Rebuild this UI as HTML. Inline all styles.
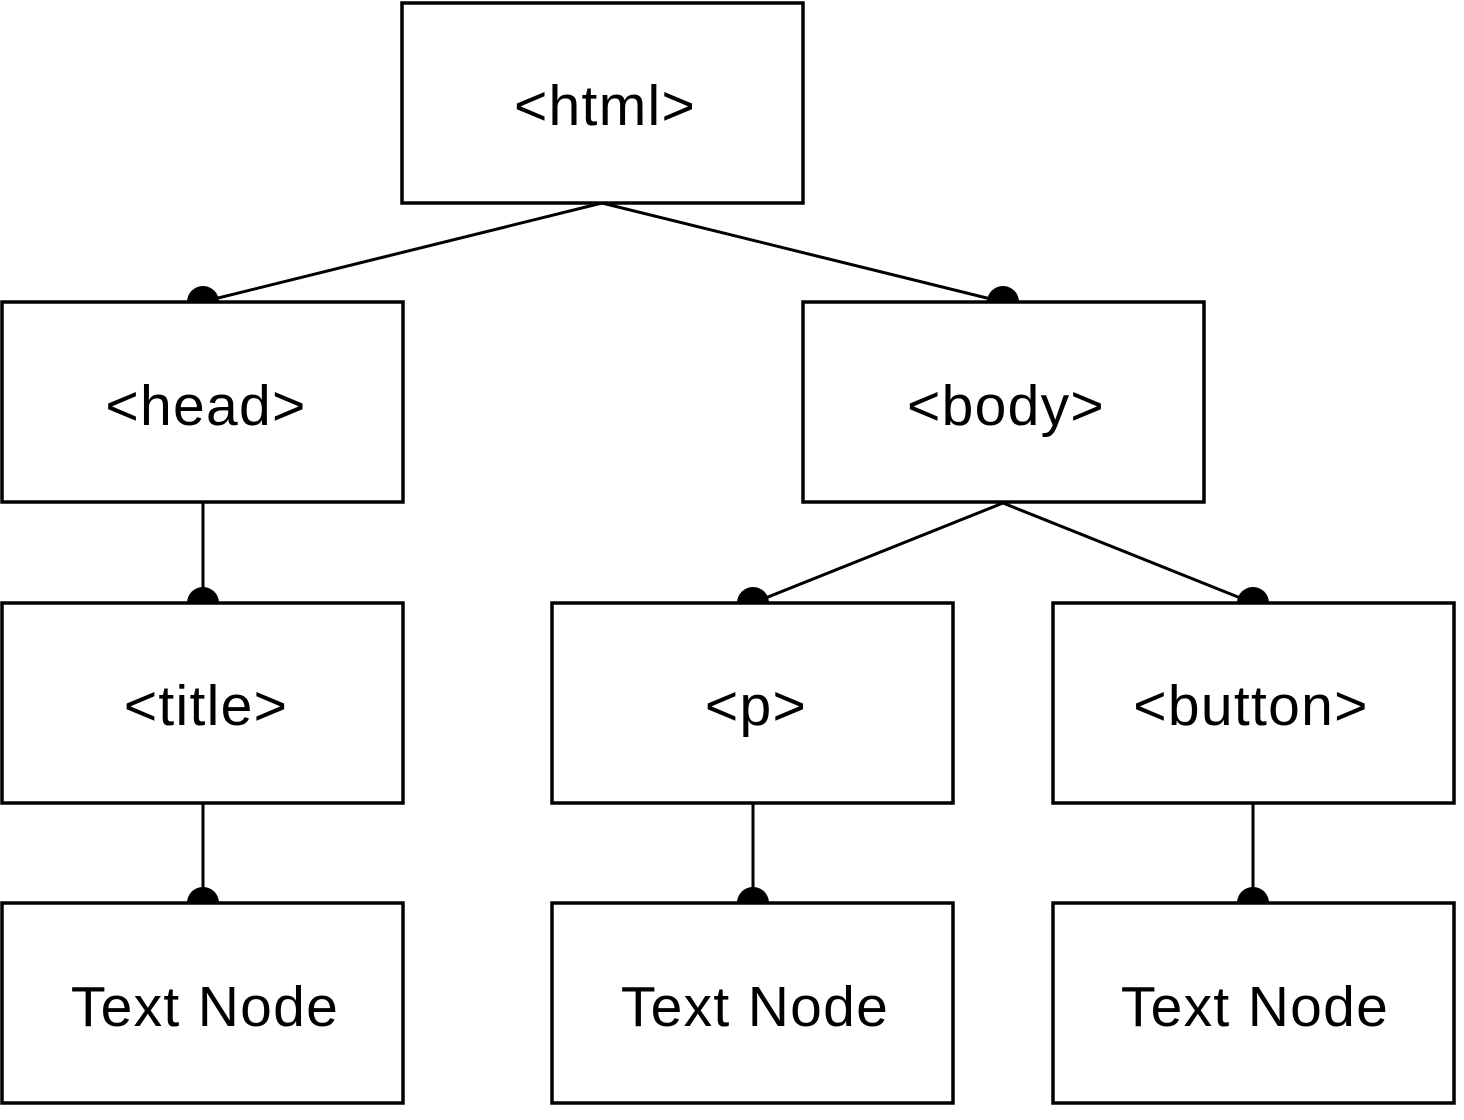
<!DOCTYPE html>
<html><head><meta charset="utf-8"><style>
html,body{margin:0;padding:0;background:#fff;}
svg{display:block;}
text{font-family:"Liberation Sans",Arial,sans-serif;font-size:57px;letter-spacing:1.3px;fill:#000;text-anchor:middle;}
</style></head><body>
<svg width="1464" height="1120" viewBox="0 0 1464 1120" xmlns="http://www.w3.org/2000/svg">
<g stroke="#000" stroke-width="3" fill="none">
<line x1="602" y1="203" x2="202" y2="302"/>
<line x1="602" y1="203" x2="1003" y2="302"/>
<line x1="203" y1="502" x2="203" y2="603"/>
<line x1="203" y1="803" x2="203" y2="903"/>
<line x1="1003" y1="503" x2="753" y2="603"/>
<line x1="1003" y1="503" x2="1253" y2="603"/>
<line x1="753" y1="803" x2="753" y2="903"/>
<line x1="1253" y1="803" x2="1253" y2="903"/>
</g>
<g fill="#000">
<path d="M187 302 A16 16 0 0 1 219 302 Z"/>
<path d="M987 302 A16 16 0 0 1 1019 302 Z"/>
<path d="M187 603 A16 16 0 0 1 219 603 Z"/>
<path d="M737 603 A16 16 0 0 1 769 603 Z"/>
<path d="M1237 603 A16 16 0 0 1 1269 603 Z"/>
<path d="M187 903 A16 16 0 0 1 219 903 Z"/>
<path d="M737 903 A16 16 0 0 1 769 903 Z"/>
<path d="M1237 903 A16 16 0 0 1 1269 903 Z"/>
</g>
<g stroke="#000" stroke-width="3.5" fill="#fff">
<rect x="402" y="3" width="401" height="200"/>
<rect x="2" y="302" width="401" height="200"/>
<rect x="803" y="302" width="401" height="200"/>
<rect x="2" y="603" width="401" height="200"/>
<rect x="552" y="603" width="401" height="200"/>
<rect x="1053" y="603" width="401" height="200"/>
<rect x="2" y="903" width="401" height="200"/>
<rect x="552" y="903" width="401" height="200"/>
<rect x="1053" y="903" width="401" height="200"/>
</g>
<text x="605" y="125">&lt;html&gt;</text>
<text x="206" y="425">&lt;head&gt;</text>
<text x="1006" y="425">&lt;body&gt;</text>
<text x="206" y="725">&lt;title&gt;</text>
<text x="756" y="725">&lt;p&gt;</text>
<text x="1251" y="725">&lt;button&gt;</text>
<text x="205" y="1026">Text Node</text>
<text x="755" y="1026">Text Node</text>
<text x="1255" y="1026">Text Node</text>
</svg>
</body></html>
